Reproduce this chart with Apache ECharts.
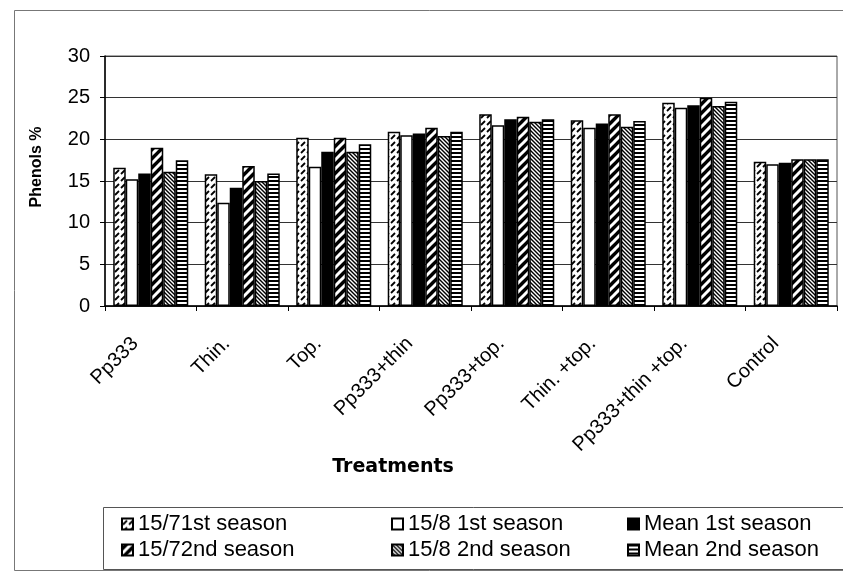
<!DOCTYPE html>
<html>
<head>
<meta charset="utf-8">
<script src="https://cdn.jsdelivr.net/npm/echarts@6/dist/echarts.min.js"></script>
<style>
  html, body { margin: 0; padding: 0; background: #fff; }
  #chart { width: 843px; height: 576px; }
</style>
</head>
<body>
<div id="chart"></div>
<script>
// Treatments on the category axis
var treatments = ['Pp333', 'Thin.', 'Top.', 'Pp333+thin', 'Pp333+top.', 'Thin. +top.', 'Pp333+thin +top.', 'Control'];

// Phenols % per treatment, one array per sampling date / season
var s15_7_1st  = [16.6, 15.8, 20.2, 20.9, 23.0, 22.3, 24.4, 17.3];
var s15_8_1st  = [15.2, 12.4, 16.7, 20.5, 21.7, 21.4, 23.8, 17.0];
var mean_1st   = [15.9, 14.2, 18.5, 20.7, 22.4, 21.9, 24.1, 17.2];
var s15_7_2nd  = [19.0, 16.8, 20.2, 21.4, 22.7, 23.0, 25.0, 17.6];
var s15_8_2nd  = [16.1, 15.0, 18.5, 20.4, 22.1, 21.5, 24.0, 17.6];
var mean_2nd   = [17.5, 15.9, 19.4, 20.9, 22.4, 22.2, 24.5, 17.6];

var yTicks = [0, 5, 10, 15, 20, 25, 30];

var seriesNames = ['15/71st season', '15/8 1st season', 'Mean 1st season',
                   '15/72nd season', '15/8 2nd season', 'Mean 2nd season'];
var seriesData = [s15_7_1st, s15_8_1st, mean_1st, s15_7_2nd, s15_8_2nd, mean_2nd];

// Monochrome fill patterns drawn on small tiles
function tile(w, h, draw) {
  var c = document.createElement('canvas');
  c.width = w; c.height = h;
  var g = c.getContext('2d');
  draw(g, w, h);
  return { image: c, repeat: 'repeat' };
}
function diag(g, s, dir) {
  // seamless diagonal line for an s x s tile
  var segs = dir > 0
    ? [[0, s, s, 0], [-2, 2, 2, -2], [s - 2, s + 2, s + 2, s - 2]]
    : [[0, 0, s, s], [-2, s - 2, 2, s + 2], [s - 2, -2, s + 2, 2]];
  segs.forEach(function (p) { g.beginPath(); g.moveTo(p[0], p[1]); g.lineTo(p[2], p[3]); g.stroke(); });
}

var fills = [
  // short slanted dashes
  tile(6, 7, function (g, w, h) {
    g.fillStyle = '#fff'; g.fillRect(0, 0, w, h);
    g.strokeStyle = '#000'; g.lineWidth = 1.8;
    g.beginPath(); g.moveTo(1, 6); g.lineTo(5, 2); g.stroke();
  }),
  '#ffffff',
  '#000000',
  // wide forward diagonal stripes
  tile(9, 9, function (g, w) {
    g.fillStyle = '#000'; g.fillRect(0, 0, w, w);
    g.strokeStyle = '#fff'; g.lineWidth = 3;
    diag(g, w, 1);
  }),
  // dense backward diagonal stripes
  tile(4, 4, function (g, w) {
    g.fillStyle = '#fff'; g.fillRect(0, 0, w, w);
    g.strokeStyle = '#000'; g.lineWidth = 1.4;
    diag(g, w, -1);
  }),
  // horizontal stripes
  tile(4, 4, function (g, w) {
    g.fillStyle = '#fff'; g.fillRect(0, 0, w, w);
    g.fillStyle = '#000'; g.fillRect(0, 0, w, 2);
  })
];

var FONT = '"Liberation Sans", Arial, sans-serif';

var series = seriesNames.map(function (name, i) {
  return {
    name: name,
    type: 'bar',
    data: seriesData[i],
    barGap: '0%',
    barCategoryGap: '18%',
    itemStyle: { color: fills[i], borderColor: '#000', borderWidth: 1.5 },
    emphasis: { disabled: true }
  };
});

// one legend block per entry, laid out in a 3 x 2 table
var legendCols = [121, 391, 627];
var legendRows = [513, 539];
var legends = seriesNames.map(function (name, i) {
  return {
    data: [name],
    left: legendCols[i % 3],
    top: legendRows[Math.floor(i / 3)],
    icon: 'rect',
    itemWidth: 11,
    itemHeight: 11,
    itemGap: 0,
    padding: 0,
    selectedMode: false,
    textStyle: { fontFamily: FONT, fontSize: 22, color: '#000', padding: [0, 0, 0, 0] }
  };
});

var chart = echarts.init(document.getElementById('chart'), null, { renderer: 'canvas' });
chart.setOption({
  animation: false,
  backgroundColor: '#fff',
  grid: {
    left: 105, right: 6, top: 56, bottom: 270,
    show: true, borderColor: '#555', borderWidth: 1
  },
  legend: legends,
  xAxis: {
    type: 'category',
    data: treatments,
    axisLine: { lineStyle: { color: '#000', width: 1.5 } },
    axisTick: { show: true, length: 5, lineStyle: { color: '#000' } },
    axisLabel: {
      rotate: 45, interval: 0, margin: 19,
      fontFamily: FONT, fontSize: 20, color: '#000',
      padding: [0, 22, 0, 0]
    }
  },
  yAxis: {
    type: 'value',
    min: yTicks[0], max: yTicks[yTicks.length - 1], interval: 5,
    axisLine: { show: true, lineStyle: { color: '#000', width: 1.5 } },
    axisTick: { show: true, length: 5, lineStyle: { color: '#000' } },
    axisLabel: { fontFamily: FONT, fontSize: 20, color: '#000', margin: 15 },
    splitLine: { lineStyle: { color: '#333', width: 1 } }
  },
  graphic: [
    // outer chart frame
    { type: 'rect', shape: { x: 14.5, y: 10.5, width: 840, height: 560 },
      style: { fill: 'none', stroke: '#777', lineWidth: 1 }, z: -1 },
    // legend box
    { type: 'rect', shape: { x: 103.5, y: 507.5, width: 745, height: 62 },
      style: { fill: 'none', stroke: '#555', lineWidth: 1 } },
    // axis titles
    { type: 'text', x: 393, y: 467,
      style: { text: 'Treatments', align: 'center', verticalAlign: 'middle',
               fontFamily: '"DejaVu Sans", sans-serif', fontWeight: 'bold', fontSize: 19, fill: '#000' } },
    { type: 'text', x: 37, y: 167, rotation: Math.PI / 2,
      style: { text: 'Phenols %', align: 'center', verticalAlign: 'middle',
               fontFamily: FONT, fontWeight: 'bold', fontSize: 16, fill: '#000' } }
  ],
  series: series
});
</script>
</body>
</html>
